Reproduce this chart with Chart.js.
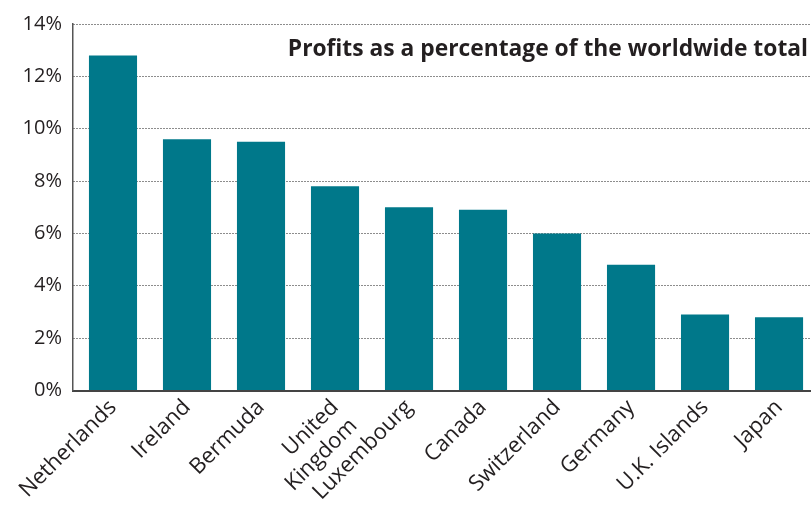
<!DOCTYPE html>
<html><head><meta charset="utf-8">
<script src="https://cdn.jsdelivr.net/npm/chart.js@4/dist/chart.umd.min.js"></script>
<style>html,body{margin:0;padding:0;background:#fff;overflow:hidden}#wrap{width:811px;height:512px}</style>
</head><body><div id="wrap"><canvas id="c" width="811" height="512"></canvas></div>
<script>
const categories = ["Netherlands","Ireland","Bermuda",["United","Kingdom"],"Luxembourg","Canada","Switzerland","Germany","U.K. Islands","Japan"];
const profitShare = [12.8, 9.6, 9.5, 7.8, 7.0, 6.9, 6.0, 4.8, 2.9, 2.8];
const yTicks = [0, 2, 4, 6, 8, 10, 12, 14];
const titleText = "Profits as a percentage of the worldwide total";

const FONT = "'Open Sans', 'Noto Sans', sans-serif";
const TEXT = '#231f20';

const titlePlugin = {
  id: 'inTitle',
  afterDraw(chart) {
    const ctx = chart.ctx;
    ctx.save();
    ctx.font = "bold 22.8px " + FONT;
    ctx.fillStyle = TEXT;
    ctx.textAlign = 'right';
    ctx.textBaseline = 'alphabetic';
    ctx.fillText(titleText, chart.chartArea.right - 3, 56);
    ctx.restore();
  }
};

new Chart(document.getElementById('c'), {
  type: 'bar',
  data: {
    datasets: [{
      data: profitShare.map((v, i) => ({x: i, y: v})),
      backgroundColor: '#00788A',
      borderWidth: 0,
      barPercentage: 0.65,
      categoryPercentage: 1.0
    }]
  },
  options: {
    responsive: false,
    animation: false,
    devicePixelRatio: 1,
    layout: {padding: {top: 24, right: 0, bottom: 0, left: 0}},
    plugins: {legend: {display: false}, tooltip: {enabled: false}},
    scales: {
      x: {
        type: 'linear',
        offset: false,
        min: -0.5405,
        max: 9.432,
        grid: {display: false, drawTicks: false, offset: false},
        border: {display: true, color: '#444', width: 2},
        afterBuildTicks(scale) { scale.ticks = categories.map((_, i) => ({value: i})); },
        afterFit(scale) { scale.height = 121.5; scale.paddingLeft = 0; scale.paddingRight = 0; },
        ticks: {
          autoSkip: false,
          minRotation: 45, maxRotation: 45,
          padding: 4,
          color: TEXT,
          font: {family: FONT, size: 22},
          callback: (v) => categories[v]
        }
      },
      y: {
        min: 0, max: 14,
        afterBuildTicks(scale) { scale.ticks = yTicks.map(v => ({value: v})); },
        afterFit(scale) { scale.width = 73; scale.paddingTop = 0; scale.paddingBottom = 0; },
        grid: {display: true, drawTicks: false, color: '#1a1a1a', lineWidth: 1},
        border: {display: true, color: '#555', width: 1.5, dash: [1, 2]},
        ticks: {
          padding: 11,
          color: TEXT,
          font: {family: FONT, size: 20},
          callback: (v) => v + '%'
        }
      }
    }
  },
  plugins: [titlePlugin]
});
</script></body></html>
